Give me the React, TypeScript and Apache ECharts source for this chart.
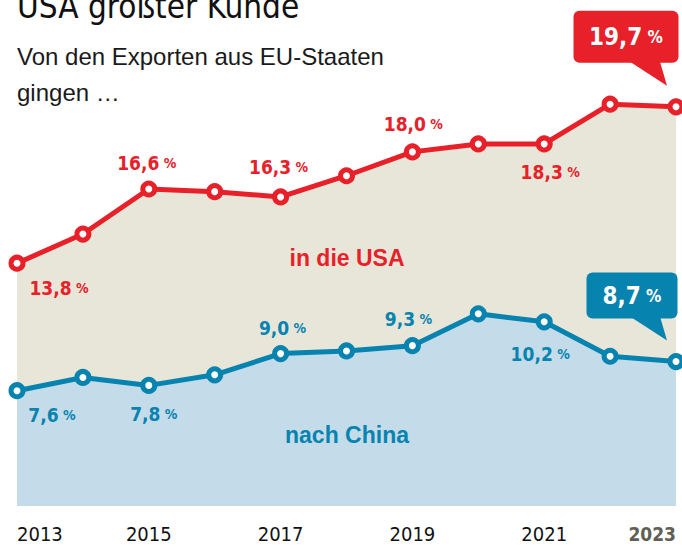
import React, { useEffect, useRef } from 'react';
import * as echarts from 'echarts';

// ---- data ----
const years = ['2013', '2014', '2015', '2016', '2017', '2018', '2019', '2020', '2021', '2022', '2023'];
const usaValues = [13.8, 14.9, 16.6, 16.5, 16.3, 17.1, 18.0, 18.3, 18.3, 19.8, 19.7];
const chinaValues = [7.6, 8.1, 7.8, 8.2, 9.0, 9.1, 9.3, 10.5, 10.2, 8.9, 8.7];
const highlightYear = '2023';
const calloutIndex = 10;
const titleText = 'USA größter Kunde';
const subtitleLines = ['Von den Exporten aus EU-Staaten', 'gingen …'];
const usaName = 'in die USA';
const chinaName = 'nach China';

// ---- styling / layout ----
const RED = '#e8202a';
const BLUE = '#0783b0';
const BEIGE = '#e8e6d8';
const LIGHTBLUE = '#c4dbe9';
const GRAY = '#5f5f56';
const NARROW = "'Liberation Sans Narrow', 'DejaVu Sans Condensed', sans-serif";
const SANS = "'Liberation Sans', Arial, sans-serif";

const usaLabelOffset: Record<number, [number, number]> = {
  0: [42, 25], 2: [-2, -26], 4: [-2, -30], 6: [1, -28], 8: [6, 28],
};
const chinaLabelOffset: Record<number, [number, number]> = {
  0: [35, 24], 2: [5, 29], 4: [2, -26], 6: [-4, -27], 8: [-4, 32],
};

const fmt = (v: number) => v.toFixed(1).replace('.', ',');

function buildData(
  values: number[],
  offsets: Record<number, [number, number]>,
  color: string,
  callout: { offset: [number, number]; w: number; padV: number }
) {
  return values.map((v, i) => {
    if (i === calloutIndex) {
      return {
        value: v,
        label: {
          show: true,
          position: 'inside',
          offset: callout.offset,
          formatter: `{v|${fmt(v)}}{p| %}`,
          backgroundColor: color,
          borderRadius: 6,
          width: callout.w,
          padding: [callout.padV, 0],
          align: 'center',
          rich: {
            v: { fontSize: 24, lineHeight: 28, color: '#fff', fontFamily: NARROW, fontWeight: 'bold', align: 'center' },
            p: { fontSize: 17, lineHeight: 28, color: '#fff', fontFamily: NARROW, fontWeight: 'bold', align: 'center' },
          },
        },
      };
    }
    if (offsets[i]) {
      return {
        value: v,
        label: {
          show: true,
          position: 'inside',
          offset: offsets[i],
          formatter: `{v|${fmt(v)}}{p| %}`,
          rich: {
            v: { fontSize: 19, color, fontFamily: NARROW, fontWeight: 'bold' },
            p: { fontSize: 14, color, fontFamily: NARROW, fontWeight: 'bold' },
          },
        },
      };
    }
    return v;
  });
}

function tailSeries(yAxisIndex: number, value: number, color: string) {
  return {
    type: 'custom',
    yAxisIndex,
    silent: true,
    z: 4,
    data: [[calloutIndex, value]],
    renderItem: (_params: any, api: any) => {
      const p = api.coord([api.value(0), api.value(1)]);
      return {
        type: 'polygon',
        shape: {
          points: [
            [p[0] - 46, p[1] - 45],
            [p[0] - 16, p[1] - 45],
            [p[0] - 9, p[1] - 21],
          ],
        },
        style: { fill: color },
      };
    },
  };
}

export default function App() {
  const ref = useRef<HTMLDivElement>(null);

  useEffect(() => {
    document.body.style.margin = '0';
    if (!ref.current) return;
    const chart = echarts.init(ref.current, null, { renderer: 'svg' });

    const option: any = {
      animation: false,
      backgroundColor: '#ffffff',
      grid: { left: 17, right: 6, top: 79, bottom: 41, containLabel: false, outerBoundsMode: 'none' },
      xAxis: {
        type: 'category',
        data: years,
        boundaryGap: false,
        axisLine: { show: false },
        axisTick: { show: false },
        splitLine: { show: false },
        axisLabel: {
          interval: 1,
          margin: 18,
          fontSize: 20,
          color: '#111',
          fontFamily: NARROW,
          alignMinLabel: 'left',
          alignMaxLabel: 'right',
          formatter: (v: string) => (v === highlightYear ? `{hl|${v}}` : v),
          rich: {
            hl: { fontSize: 19, color: GRAY, fontWeight: 'bold', fontFamily: NARROW },
          },
        },
      },
      yAxis: [
        { type: 'value', min: 3.25, max: 19.36, show: false, splitLine: { show: false } },
        { type: 'value', min: 4.64, max: 20.75, show: false, splitLine: { show: false } },
      ],
      series: [
        {
          name: usaName,
          type: 'line',
          yAxisIndex: 1,
          silent: true,
          z: 2,
          data: buildData(usaValues, usaLabelOffset, RED, { offset: [-50, -70], w: 105, padV: 12 }),
          symbol: 'circle',
          symbolSize: 12,
          showAllSymbol: true,
          lineStyle: { color: RED, width: 5 },
          itemStyle: { color: '#fff', borderColor: RED, borderWidth: 5 },
          areaStyle: { color: BEIGE, opacity: 1, origin: 'start' },
          label: { show: false },
          emphasis: { disabled: true },
        },
        {
          name: chinaName,
          type: 'line',
          yAxisIndex: 0,
          silent: true,
          z: 3,
          data: buildData(chinaValues, chinaLabelOffset, BLUE, { offset: [-44, -66], w: 91, padV: 9 }),
          symbol: 'circle',
          symbolSize: 12,
          showAllSymbol: true,
          lineStyle: { color: BLUE, width: 5 },
          itemStyle: { color: '#fff', borderColor: BLUE, borderWidth: 5 },
          areaStyle: { color: LIGHTBLUE, opacity: 1, origin: 'start' },
          label: { show: false },
          emphasis: { disabled: true },
        },
        tailSeries(1, usaValues[calloutIndex], RED),
        tailSeries(0, chinaValues[calloutIndex], BLUE),
      ],
      graphic: [
        {
          type: 'text',
          left: 17,
          top: -10,
          z: 100,
          style: { text: titleText, fontSize: 33, fontFamily: NARROW, fill: '#111', verticalAlign: 'top' },
        },
        {
          type: 'text',
          left: 17,
          top: 38,
          z: 100,
          style: {
            text: subtitleLines.join('\n'),
            fontSize: 24,
            lineHeight: 36,
            fontFamily: SANS,
            fill: '#1a1a1a',
          },
        },
        {
          type: 'text',
          x: 347,
          y: 258,
          z: 100,
          style: {
            text: usaName,
            fontSize: 23,
            fontWeight: 'bold',
            fontFamily: SANS,
            fill: RED,
            align: 'center',
            verticalAlign: 'middle',
          },
        },
        {
          type: 'text',
          x: 347,
          y: 435,
          z: 100,
          style: {
            text: chinaName,
            fontSize: 23,
            fontWeight: 'bold',
            fontFamily: SANS,
            fill: BLUE,
            align: 'center',
            verticalAlign: 'middle',
          },
        },
      ],
    };

    chart.setOption(option);
    return () => chart.dispose();
  }, []);

  return <div ref={ref} style={{ width: 682, height: 547 }} />;
}
